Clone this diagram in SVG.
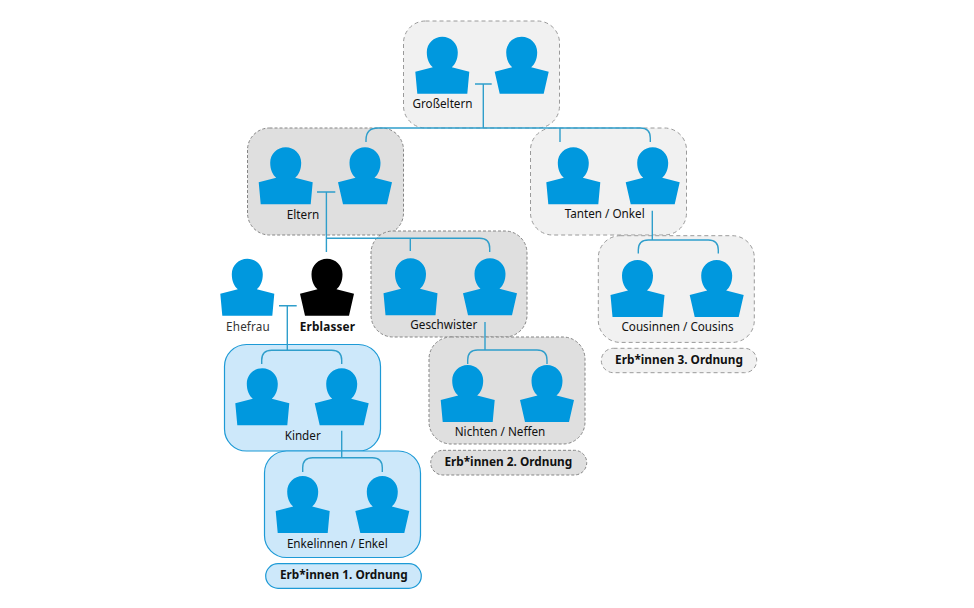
<svg xmlns="http://www.w3.org/2000/svg" width="974" height="608" viewBox="0 0 974 608">
<style>
.g{fill:#f1f1f1;stroke:#9a9a9a;stroke-width:1;stroke-dasharray:4 3}
.d{fill:#dfdfdf;stroke:#858585;stroke-width:1;stroke-dasharray:3 2}
.b{fill:#cde8fa;stroke:#1d9ad6;stroke-width:1.2}
.c{fill:none;stroke:#2f9ecb;stroke-width:1.4}
text{font-family:"Noto Sans","Open Sans",sans-serif;font-size:11.7px;fill:#111;text-anchor:middle}
.o{font-weight:700;font-size:11.8px}
.p{fill:#0098de}
</style>
<defs>
<path id="pl" d="M-15.500 15.500C-15.500 6.500-8.500 0 0 0C8.500 0 15.500 6.500 15.500 15.500C15.500 22.500 13 27.500 9.500 30.500L27 35L25 57H-25L-27 35L-9.500 30.500C-13 27.500-15.500 22.500-15.500 15.500Z"/>
<path id="pr" d="M-15.500 15.500C-15.500 6.500-8.500 0 0 0C8.500 0 15.500 6.500 15.500 15.500C15.500 22.500 13 27.500 9.500 30.500L27 35L22 57H-22L-27 35L-9.500 30.500C-13 27.500-15.500 22.500-15.500 15.500Z"/>
</defs>
<g id="n-grosseltern"><rect class="g" x="403.500" y="21" width="156" height="107" rx="22"/><use class="p" href="#pl" x="442.300" y="36.700"/><use class="p" href="#pr" x="521.700" y="36.700"/><text x="442.500" y="108">Großeltern</text></g>
<g id="n-eltern"><rect class="d" x="247.500" y="128" width="156" height="107" rx="22"/><use class="p" href="#pl" x="285.700" y="147.300"/><use class="p" href="#pr" x="365" y="147.300"/><text x="303" y="218.500">Eltern</text></g>
<g id="n-tanten"><rect class="g" x="530.500" y="128" width="156" height="107" rx="22"/><use class="p" href="#pl" x="573.300" y="147.300"/><use class="p" href="#pr" x="652.700" y="147.300"/><text x="604.700" y="218">Tanten / Onkel</text></g>
<g id="n-geschwister"><rect class="d" x="371" y="231" width="156" height="106" rx="22"/><use class="p" href="#pl" x="410.500" y="258.300"/><use class="p" href="#pr" x="490" y="258.300"/><text x="443.800" y="329">Geschwister</text></g>
<g id="n-cousinnen"><rect class="g" x="598.300" y="235.700" width="156" height="106.700" rx="22"/><use class="p" href="#pl" x="637.500" y="260"/><use class="p" href="#pr" x="716.700" y="260"/><text x="677.500" y="331">Cousinnen / Cousins</text></g>
<g id="n-ehefrau"><use class="p" href="#pl" x="247.300" y="258.700"/><text x="248" y="331" style="fill:#333;letter-spacing:.15px">Ehefrau</text></g>
<g id="n-erblasser"><use href="#pr" x="327" y="258.700" fill="#000"/><text class="o" x="327.500" y="331" style="letter-spacing:.15px">Erblasser</text></g>
<g id="n-kinder"><rect class="b" x="224.500" y="344.500" width="156" height="106.500" rx="22"/><use class="p" href="#pl" x="262.300" y="368.300"/><use class="p" href="#pr" x="341.700" y="368.300"/><text x="302.700" y="440">Kinder</text></g>
<g id="n-nichten"><rect class="d" x="429" y="337" width="156" height="107" rx="22"/><use class="p" href="#pl" x="467.700" y="365"/><use class="p" href="#pr" x="547" y="365"/><text x="500" y="435.500">Nichten / Neffen</text></g>
<g id="n-enkel"><rect class="b" x="264.500" y="451" width="156" height="106.500" rx="22"/><use class="p" href="#pl" x="302.700" y="476"/><use class="p" href="#pr" x="382.300" y="476"/><text x="337.300" y="548">Enkelinnen / Enkel</text></g>
<g id="n-ordnung-1"><rect class="b" x="265.700" y="563.700" width="155.600" height="24.600" rx="12.300"/><text class="o" x="343.800" y="578.700">Erb*innen 1. Ordnung</text></g>
<g id="n-ordnung-2"><rect class="d" x="430.700" y="450.300" width="156" height="24.700" rx="12.300"/><text class="o" x="508.300" y="465.700">Erb*innen 2. Ordnung</text></g>
<g id="n-ordnung-3"><rect class="g" x="601.300" y="348.300" width="155.400" height="24.400" rx="12.200"/><text class="o" x="679" y="363.500">Erb*innen 3. Ordnung</text></g>
<g id="connectors">
<path class="c" d="M475 84H491.700M483.300 84V128M366 142V140Q366 128 378 128H640.300Q650.300 128 650.300 138V142M560 128V142"/>
<path class="c" d="M317 192H335.300M326.400 192V252M326.400 238.300H479.700Q489.700 238.300 489.700 248.300V252M410.300 238.300V251"/>
<path class="c" d="M652.300 210.700V240M638.300 253.500V250Q638.300 240 648.300 240H708.300Q718.300 240 718.300 250V253.500"/>
<path class="c" d="M279 305.700H296.700M287.300 305.700V350.300M261.700 364V360.300Q261.700 350.300 271.700 350.300H331.700Q341.700 350.300 341.700 360.300V364"/>
<path class="c" d="M341.700 430.700V457.700M302.700 472V467.700Q302.700 457.700 312.700 457.700H372.300Q382.300 457.700 382.300 467.700V472"/>
<path class="c" d="M485 322V350M467.700 364V360Q467.700 350 477.700 350H537Q547 350 547 360V364"/>
</g>
</svg>
